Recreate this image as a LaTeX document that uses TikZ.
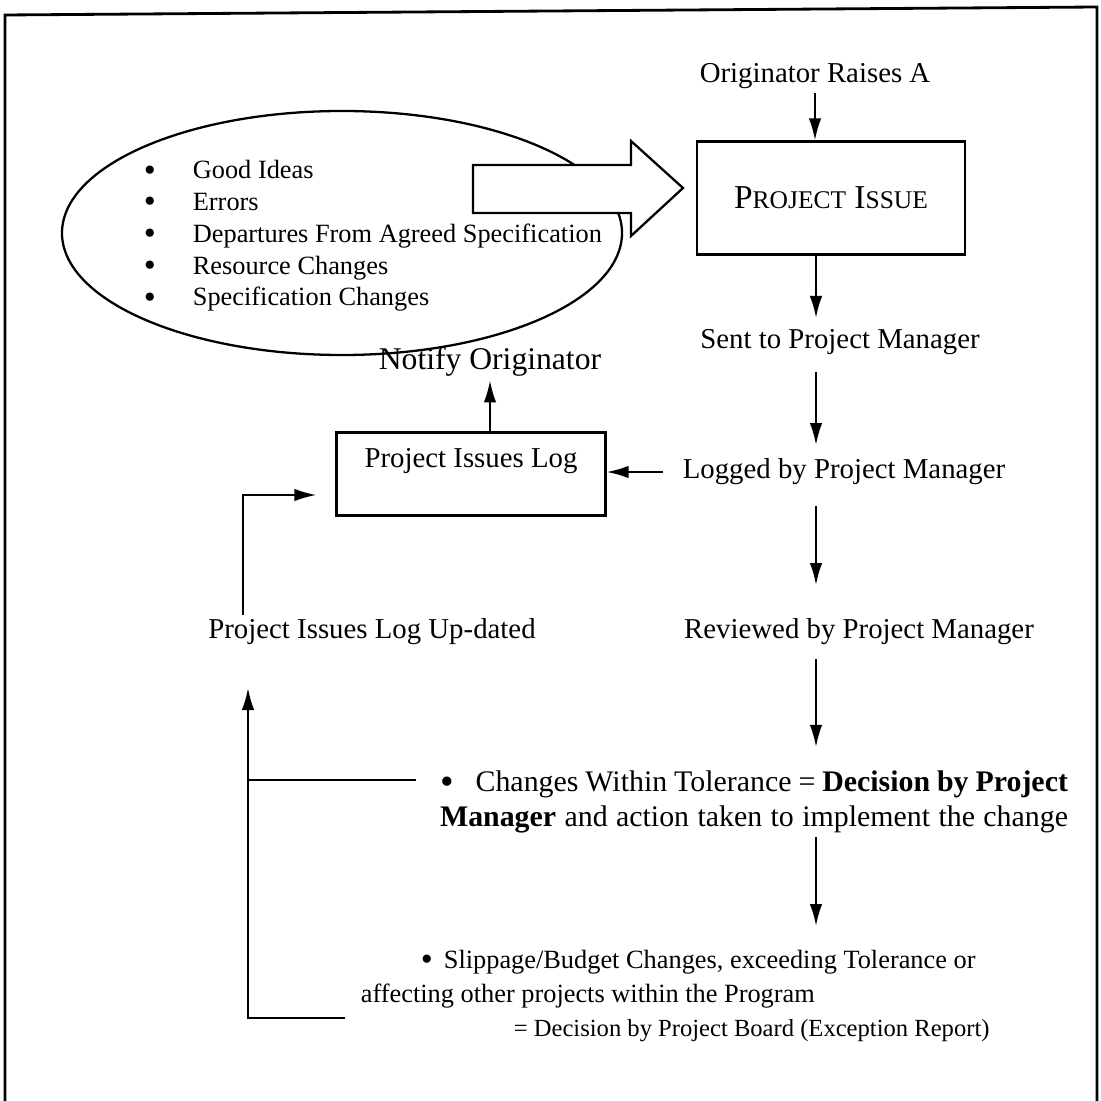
\documentclass[tikz,border=0pt]{standalone}
\usepackage{fontspec}
\setmainfont{Liberation Serif}
\usetikzlibrary{arrows.meta,positioning}
\newcommand{\blt}{\raisebox{-0.09em}[0pt][0pt]{\scalebox{1.3}{\textbullet}}}

\begin{document}
\begin{tikzpicture}[x=0.02cm, y=-0.02cm,
  txt/.style={font=\fontsize{16.4}{19.5}\selectfont, inner sep=2pt},
  box/.style={draw, line width=1.3pt, inner sep=2pt},
  arr/.style={-{Latex[length=4.4mm,width=2.5mm]}, line width=1.2pt},
  lin/.style={line width=1.2pt}]
\useasboundingbox (0,0) rectangle (1100,1101);
% frame, open at the bottom
\draw[line width=1.6pt] (5,1101) -- (5,15) -- (1097,7) -- (1097,1101);

% where issues come from
\draw[line width=1.3pt] (342,233) ellipse (280 and 122);
\node[anchor=west, align=left, inner sep=2pt, font=\fontsize{15}{18.1}\selectfont] (src) at (140,236) {%
  \makebox[0.98cm][l]{\blt}Good Ideas\\
  \makebox[0.98cm][l]{\blt}Errors\\
  \makebox[0.98cm][l]{\blt}Departures From Agreed Specification\\
  \makebox[0.98cm][l]{\blt}Resource Changes\\
  \makebox[0.98cm][l]{\blt}Specification Changes};
\draw[line width=1.3pt, fill=white, line join=miter]
  (473,165) -- (631,165) -- (631,141) -- (683,188) -- (631,236) -- (631,213) -- (473,213) -- cycle;

% main column
\node[txt] (orig) at (815,76) {Originator Raises A};
\node[box, minimum width=5.36cm, minimum height=2.26cm, font=\fontsize{19}{22}\selectfont] (issue) at (831,198)
  {P{\fontsize{14.5}{16}\selectfont ROJECT} I{\fontsize{14.5}{16}\selectfont SSUE}};
\node[txt] (sent) at (840,342) {Sent to Project Manager};
\node[txt] (logged) at (844,472) {Logged by Project Manager};
\node[txt] (reviewed) at (859,632) {Reviewed by Project Manager};
\node[txt, font=\fontsize{17}{20}\selectfont, align=left] (changes) at (754,802) {%
  \makebox[12.56cm][s]{\blt\hspace{0.3cm} Changes Within Tolerance = \textbf{Decision by Project}}\\
  \makebox[12.56cm][s]{\textbf{Manager} and action taken to implement the change}};
\node[anchor=north west, align=left, inner sep=2pt, font=\fontsize{15}{19.4}\selectfont] (slip) at (357,946) {%
  \hspace*{1.2cm}\blt\hspace{0.22cm}Slippage/Budget Changes, exceeding Tolerance or\\
  affecting other projects within the Program\\
  \hspace*{3.06cm}{\fontsize{14}{19.4}\selectfont = Decision by Project Board (Exception Report)}};
\coordinate (col) at (816,0);

\draw[arr] (orig.south) -- (orig.south |- issue.north);
\draw[arr, shorten >=0.15cm] (col |- issue.south) -- (col |- sent.north);
\draw[arr, shorten <=0.27cm, shorten >=0.2cm] (col |- sent.south) -- (col |- logged.north);
\draw[arr, shorten <=0.35cm, shorten >=0.6cm] (col |- logged.south) -- (col |- reviewed.north);
\draw[arr, shorten <=0.2cm, shorten >=0.4cm] (col |- reviewed.south) -- (col |- changes.north);
\draw[arr, shorten >=0.4cm] (col |- changes.south) -- (col |- slip.north);

% log box and its links
\node[box, minimum width=5.38cm, minimum height=1.66cm, font=\fontsize{16.4}{19.5}\selectfont,
  inner ysep=0.2cm, text height=0.48cm, text depth=0.74cm] (log) at (471,474) {Project Issues Log};
\node[txt, font=\fontsize{18}{21}\selectfont] (notify) at (490,362) {Notify Originator};
\node[txt] (updated) at (372,632) {Project Issues Log Up-dated};
\draw[arr, shorten <=0.31cm] (logged.west) -- (log.east |- logged.west);
\draw[arr] (log.north -| notify.south) -- (notify.south);
\coordinate (loop) at (243,495);
\draw[arr, shorten >=0.38cm] (updated.north -| loop) -- (loop) -- (log.west |- loop);

% decisions fed back to the log
\coordinate (brTop) at (248,688);
\coordinate (brBot) at (345,1018);
\coordinate (brMid) at (248,780);
\draw[arr] (brBot) -| (brTop);
\draw[lin, shorten >=0.4cm] (brMid) -- (changes.west |- brMid);
\end{tikzpicture}
\end{document}
